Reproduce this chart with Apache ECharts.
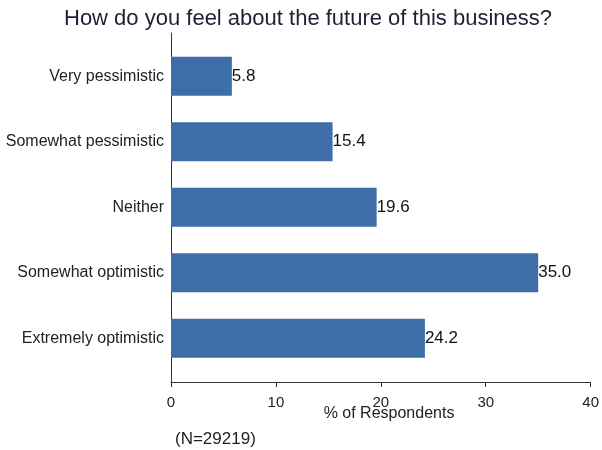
<!DOCTYPE html>
<html><head><meta charset="utf-8">
<script src="https://cdn.jsdelivr.net/npm/echarts@6/dist/echarts.min.js"></script>
<style>html,body{margin:0;padding:0;background:#fff}#c{width:602px;height:450px}</style>
</head><body><div id="c"></div>
<script>
var categories = ["Very pessimistic","Somewhat pessimistic","Neither","Somewhat optimistic","Extremely optimistic"];
var values = [5.8, 15.4, 19.6, 35.0, 24.2];
var xTicks = [0, 10, 20, 30, 40];
var titleText = "How do you feel about the future of this business?";
var axisTitle = "% of Respondents";
var noteText = "(N=29219)";

var chart = echarts.init(document.getElementById('c'));
var font = 'Liberation Sans, Arial, sans-serif';
chart.setOption({
  animation: false,
  backgroundColor: '#ffffff',
  title: [
    {text: titleText, left: 64, top: 8, padding: 0,
     textStyle: {fontFamily: font, fontSize: 22, fontWeight: 'normal', color: '#1e2035'}},
    {text: axisTitle, left: 389, top: 406, padding: 0, textAlign: 'center',
     textStyle: {fontFamily: font, fontSize: 16, fontWeight: 'normal', color: '#222'}},
    {text: noteText, left: 175, top: 431, padding: 0,
     textStyle: {fontFamily: font, fontSize: 17, fontWeight: 'normal', color: '#222'}}
  ],
  grid: [
    {left: 171, right: 11, top: 43.5, bottom: 79, containLabel: false},
    {left: 171, right: 11, top: 33, bottom: 68, containLabel: false}
  ],
  xAxis: [
    {type: 'value', gridIndex: 0, min: xTicks[0], max: xTicks[xTicks.length-1], interval: 10, offset: 11,
     axisLine: {show: true, lineStyle: {color: '#333', width: 1}},
     axisTick: {show: true, length: 5, lineStyle: {color: '#333'}},
     axisLabel: {fontFamily: font, fontSize: 15, color: '#222', margin: 13},
     splitLine: {show: false}},
    {type: 'value', gridIndex: 1, min: 0, max: 40, show: false}
  ],
  yAxis: [
    {type: 'category', gridIndex: 0, data: categories, inverse: true,
     axisLine: {show: false}, axisTick: {show: false},
     axisLabel: {fontFamily: font, fontSize: 16, color: '#222', margin: 7}},
    {type: 'value', gridIndex: 1, min: 0, max: 1,
     axisLine: {show: true, lineStyle: {color: '#333', width: 1}},
     axisTick: {show: false}, axisLabel: {show: false}, splitLine: {show: false}}
  ],
  series: [{
    type: 'bar', xAxisIndex: 0, yAxisIndex: 0, data: values, barWidth: 39,
    itemStyle: {color: '#3d6ea8'},
    label: {show: true, position: 'right', distance: 0,
      formatter: function(p){ return p.value.toFixed(1); },
      fontFamily: font, fontSize: 17, color: '#111'}
  }]
});
</script></body></html>
